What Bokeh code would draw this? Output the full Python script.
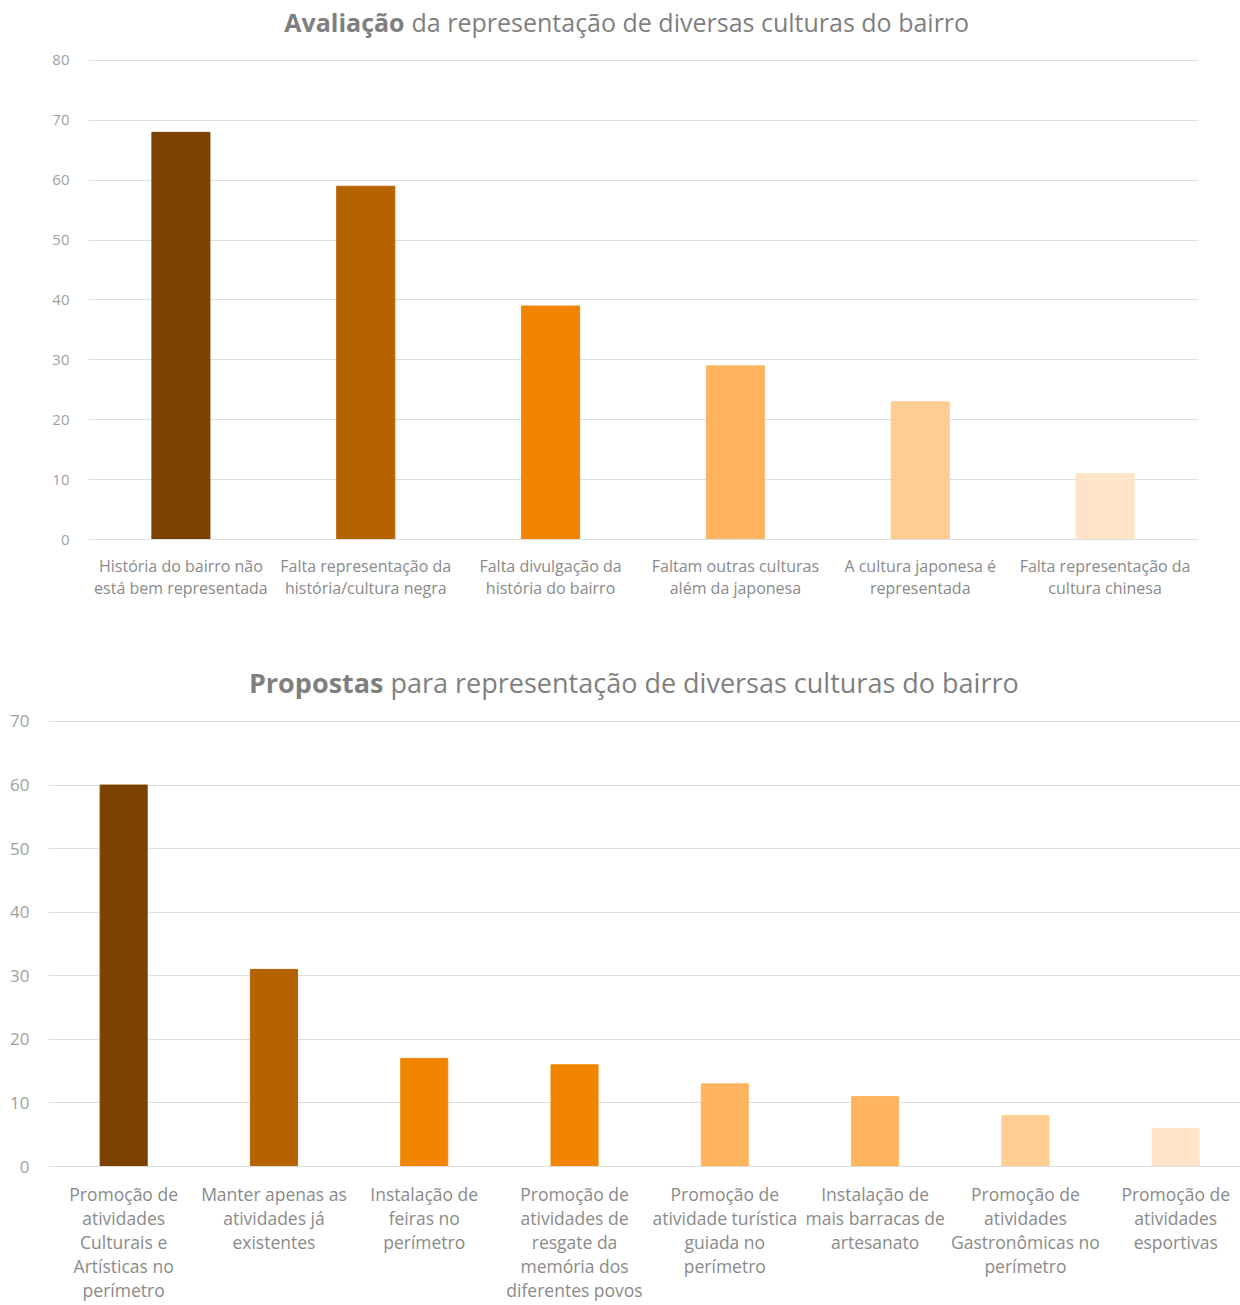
from bokeh.plotting import figure
from bokeh.models import Range1d, FixedTicker, ColumnDataSource
from bokeh.embed import file_html
from bokeh.resources import INLINE
from bokeh.core.properties import value

# ---------------- data ----------------
title1_bold = "Avaliação"
title1_rest = "da representação de diversas culturas do bairro"
cats1 = [
    "História do bairro não\nestá bem representada",
    "Falta representação da\nhistória/cultura negra",
    "Falta divulgação da\nhistória do bairro",
    "Faltam outras culturas\nalém da japonesa",
    "A cultura japonesa é\nrepresentada",
    "Falta representação da\ncultura chinesa",
]
vals1 = [68, 59, 39, 29, 23, 11]
colors1 = ["#7A4100", "#B56200", "#F28500", "#FFB55F", "#FFCC91", "#FFE4C7"]
yticks1 = [0, 10, 20, 30, 40, 50, 60, 70, 80]

title2_bold = "Propostas"
title2_rest = "para representação de diversas culturas do bairro"
cats2 = [
    "Promoção de\natividades\nCulturais e\nArtísticas no\nperímetro",
    "Manter apenas as\natividades já\nexistentes",
    "Instalação de\nfeiras no\nperímetro",
    "Promoção de\natividades de\nresgate da\nmemória dos\ndiferentes povos",
    "Promoção de\natividade turística\nguiada no\nperímetro",
    "Instalação de\nmais barracas de\nartesanato",
    "Promoção de\natividades\nGastronômicas no\nperímetro",
    "Promoção de\natividades\nesportivas",
]
vals2 = [60, 31, 17, 16, 13, 11, 8, 6]
colors2 = ["#7A4100", "#B56200", "#F28500", "#F28500", "#FFB55F", "#FFB55F", "#FFCC91", "#FFE4C7"]
yticks2 = [0, 10, 20, 30, 40, 50, 60, 70]

FONT = "Open Sans"
TITLE_COLOR = "#7f7f7f"
XLAB_COLOR = "#8a8a8a"
YLAB_COLOR = "#a0a0a0"
GRID_COLOR = "#dedede"


def make_chart(cats, vals, colors, yticks, title_bold, title_rest,
               width, height, xmax, ymax, bl, br, bb, bar_w,
               title_y, title_split, xfs, xlh, yfs, tfs, xstand, ystand):
    n = len(cats)
    xs = [i + 0.5 for i in range(n)]
    src = ColumnDataSource(dict(x=xs, top=vals, color=colors))
    p = figure(width=width, height=height, title=None,
               x_range=Range1d(0, xmax), y_range=Range1d(0, ymax),
               output_backend="svg", toolbar_location=None,
               min_border_left=bl, min_border_right=br,
               min_border_top=0, min_border_bottom=bb)
    p.outline_line_color = None
    p.background_fill_color = "white"
    p.border_fill_color = "white"
    p.xgrid.grid_line_color = None
    p.ygrid.ticker = FixedTicker(ticks=yticks)
    p.ygrid.grid_line_color = GRID_COLOR
    p.ygrid.grid_line_width = 1

    p.vbar(x="x", top="top", width=bar_w, fill_color="color",
           line_color="color", source=src)

    xa = p.xaxis[0]
    xa.ticker = FixedTicker(ticks=xs)
    xa.major_label_overrides = {x: c for x, c in zip(xs, cats)}
    xa.axis_line_color = GRID_COLOR
    xa.major_tick_line_color = None
    xa.minor_tick_line_color = None
    xa.major_tick_out = 0
    xa.major_tick_in = 0
    xa.major_label_standoff = xstand
    xa.major_label_text_font = FONT
    xa.major_label_text_font_size = f"{xfs}px"
    xa.major_label_text_color = XLAB_COLOR
    xa.major_label_text_line_height = xlh

    ya = p.yaxis[0]
    ya.ticker = FixedTicker(ticks=yticks)
    ya.axis_line_color = None
    ya.major_tick_line_color = None
    ya.minor_tick_line_color = None
    ya.major_tick_out = 0
    ya.major_tick_in = 0
    ya.major_label_standoff = ystand
    ya.major_label_text_font = FONT
    ya.major_label_text_font_size = f"{yfs}px"
    ya.major_label_text_color = YLAB_COLOR

    p.text(x=[title_split], y=[title_y], text=[title_bold],
           text_font=value(FONT), text_font_size=f"{tfs}px",
           text_font_style="bold", text_color=TITLE_COLOR,
           text_align="right", text_baseline="middle")
    p.text(x=[title_split], y=[title_y], text=[title_rest],
           text_font=value(FONT), text_font_size=f"{tfs}px",
           text_color=TITLE_COLOR, x_offset=7,
           text_align="left", text_baseline="middle")
    return p


p1 = make_chart(cats1, vals1, colors1, yticks1, title1_bold, title1_rest,
                width=1240, height=637, xmax=6, ymax=90.02,
                bl=88, br=43, bb=98, bar_w=0.314,
                title_y=86.35, title_split=1.71,
                xfs=16, xlh=1.02, yfs=15, tfs=25, xstand=15, ystand=19)

p2 = make_chart(cats2, vals2, colors2, yticks2, title2_bold, title2_rest,
                width=1240, height=668, xmax=7.931, ymax=83.21,
                bl=48, br=0, bb=139, bar_w=0.313,
                title_y=76.13, title_split=2.229,
                xfs=17.5, xlh=1.0, yfs=17, tfs=27, xstand=15, ystand=19)

open("out.html", "w").write(file_html([p1, p2], INLINE))
